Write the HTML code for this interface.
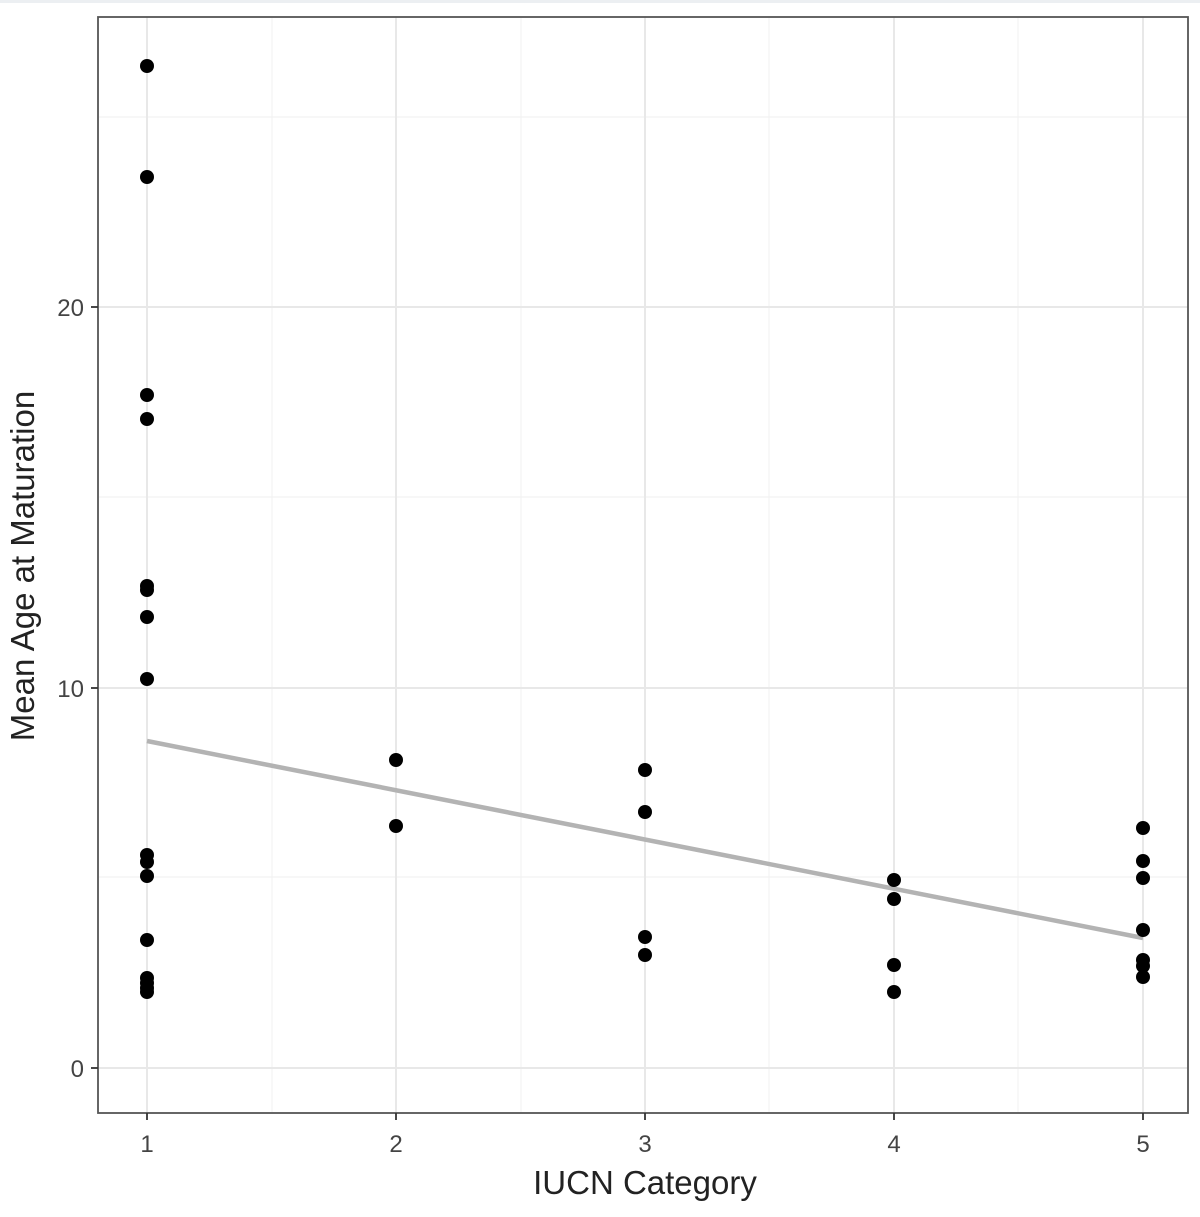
<!DOCTYPE html><html><head><style>body{margin:0;background:#fff}</style></head><body>
<svg width="1200" height="1212" xmlns="http://www.w3.org/2000/svg" font-family="Liberation Sans, sans-serif">
<rect x="0" y="0" width="1200" height="3" fill="#eceff2"/>
<g stroke="#f2f2f2" stroke-width="1.2">
<line x1="272" y1="17" x2="272" y2="1113"/><line x1="521" y1="17" x2="521" y2="1113"/><line x1="769" y1="17" x2="769" y2="1113"/><line x1="1018" y1="17" x2="1018" y2="1113"/>
<line x1="98" y1="117" x2="1188" y2="117"/><line x1="98" y1="497" x2="1188" y2="497"/><line x1="98" y1="877" x2="1188" y2="877"/>
</g>
<g stroke="#e8e8e8" stroke-width="2">
<line x1="147" y1="17" x2="147" y2="1113"/><line x1="396" y1="17" x2="396" y2="1113"/><line x1="645" y1="17" x2="645" y2="1113"/><line x1="894" y1="17" x2="894" y2="1113"/><line x1="1143" y1="17" x2="1143" y2="1113"/>
<line x1="98" y1="307" x2="1188" y2="307"/><line x1="98" y1="688" x2="1188" y2="688"/><line x1="98" y1="1068" x2="1188" y2="1068"/>
</g>
<line x1="147" y1="741" x2="1143" y2="938" stroke="#b3b3b3" stroke-width="4.5"/>
<g fill="#000">
<circle cx="147" cy="66" r="7"/><circle cx="147" cy="177" r="7"/><circle cx="147" cy="395" r="7"/><circle cx="147" cy="419" r="7"/><circle cx="147" cy="586" r="7"/><circle cx="147" cy="590" r="7"/><circle cx="147" cy="617" r="7"/><circle cx="147" cy="679" r="7"/><circle cx="147" cy="855" r="7"/><circle cx="147" cy="862" r="7"/><circle cx="147" cy="876" r="7"/><circle cx="147" cy="940" r="7"/><circle cx="147" cy="978" r="7"/><circle cx="147" cy="983" r="7"/><circle cx="147" cy="988" r="7"/><circle cx="147" cy="992" r="7"/>
<circle cx="396" cy="760" r="7"/><circle cx="396" cy="826" r="7"/>
<circle cx="645" cy="770" r="7"/><circle cx="645" cy="812" r="7"/><circle cx="645" cy="937" r="7"/><circle cx="645" cy="955" r="7"/>
<circle cx="894" cy="880" r="7"/><circle cx="894" cy="899" r="7"/><circle cx="894" cy="965" r="7"/><circle cx="894" cy="992" r="7"/>
<circle cx="1143" cy="828" r="7"/><circle cx="1143" cy="861" r="7"/><circle cx="1143" cy="878" r="7"/><circle cx="1143" cy="930" r="7"/><circle cx="1143" cy="960" r="7"/><circle cx="1143" cy="966" r="7"/><circle cx="1143" cy="977" r="7"/>
</g>
<rect x="98" y="17" width="1090" height="1096" fill="none" stroke="#555" stroke-width="1.8"/>
<g stroke="#333" stroke-width="1.8">
<line x1="91" y1="307" x2="98" y2="307"/><line x1="91" y1="688" x2="98" y2="688"/><line x1="91" y1="1068" x2="98" y2="1068"/>
<line x1="147" y1="1113" x2="147" y2="1120"/><line x1="396" y1="1113" x2="396" y2="1120"/><line x1="645" y1="1113" x2="645" y2="1120"/><line x1="894" y1="1113" x2="894" y2="1120"/><line x1="1143" y1="1113" x2="1143" y2="1120"/>
</g>
<g fill="#444" font-size="24" text-anchor="end">
<text x="84" y="316">20</text><text x="84" y="697">10</text><text x="84" y="1077">0</text>
</g>
<g fill="#444" font-size="24" text-anchor="middle">
<text x="147" y="1152">1</text><text x="396" y="1152">2</text><text x="645" y="1152">3</text><text x="894" y="1152">4</text><text x="1143" y="1152">5</text>
</g>
<text x="645" y="1194" font-size="33" text-anchor="middle" fill="#222">IUCN Category</text>
<text transform="translate(34,566) rotate(-90)" font-size="33" text-anchor="middle" fill="#222">Mean Age at Maturation</text>
</svg></body></html>
